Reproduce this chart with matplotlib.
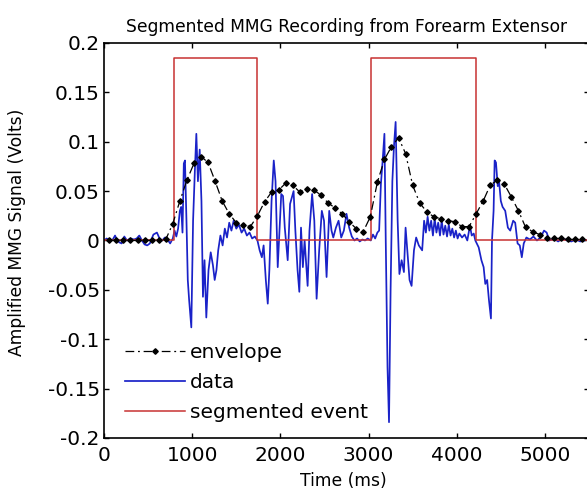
import numpy as np
import matplotlib
matplotlib.use('Agg')
import matplotlib.pyplot as plt

plt.rcParams['axes.unicode_minus'] = False

# envelope sampled every 80 ms starting at 60 ms
env_t = np.arange(60, 5421, 80)
env_v = [0.0, 0.0, 0.0, 0.0, 0.0, 0.0, 0.0, 0.0, 0.001, 0.017,
         0.040, 0.061, 0.078, 0.085, 0.079, 0.060, 0.040, 0.027, 0.018, 0.016,
         0.014, 0.025, 0.039, 0.049, 0.051, 0.058, 0.056, 0.049, 0.052, 0.051,
         0.046, 0.038, 0.033, 0.027, 0.019, 0.012, 0.009, 0.024, 0.059, 0.082,
         0.095, 0.104, 0.088, 0.056, 0.038, 0.029, 0.024, 0.022, 0.020, 0.019,
         0.014, 0.014, 0.027, 0.040, 0.056, 0.061, 0.057, 0.044, 0.030, 0.0135,
         0.009, 0.006, 0.003, 0.002, 0.002, 0.001, 0.001, 0.001]

# raw MMG trace, read as turning points (ms, volts)
data_t = [0, 30, 60, 100, 125, 150, 175, 200, 230, 260, 300, 340, 370, 400,
          430, 460, 490, 520, 560, 600, 630, 660, 690, 720, 750, 780, 800,
          820, 840, 860, 875, 890, 905, 918, 935, 950, 965, 990, 1010, 1030,
          1047, 1065, 1085, 1105, 1122, 1140, 1160, 1185, 1210, 1235, 1255,
          1275, 1295, 1320, 1345, 1370, 1395, 1420, 1445, 1470, 1500, 1530,
          1560, 1590, 1620, 1650, 1680, 1710, 1740, 1765, 1790, 1810, 1835,
          1857, 1875, 1900, 1925, 1945, 1970, 1990, 2010, 2030, 2050, 2083,
          2110, 2150, 2170, 2195, 2215, 2234, 2255, 2275, 2290, 2309, 2330,
          2360, 2385, 2411, 2440, 2470, 2495, 2524, 2554, 2580, 2600, 2630,
          2660, 2690, 2720, 2750, 2780, 2810, 2840, 2870, 2900, 2930, 2960,
          2990, 3025, 3050, 3075, 3100, 3120, 3140, 3160, 3180, 3195, 3215,
          3232, 3250, 3270, 3288, 3307, 3330, 3350, 3375, 3401, 3420, 3440,
          3465, 3488, 3515, 3540, 3570, 3608, 3630, 3650, 3670, 3690, 3710,
          3730, 3750, 3770, 3790, 3810, 3830, 3850, 3870, 3890, 3910, 3930,
          3950, 3970, 3990, 4010, 4030, 4060, 4090, 4120, 4150, 4170, 4193,
          4211, 4249, 4280, 4305, 4324, 4345, 4365, 4388, 4400, 4418, 4430,
          4445, 4465, 4480, 4500, 4520, 4550, 4580, 4607, 4640, 4663, 4690,
          4715, 4738, 4760, 4790, 4830, 4870, 4910, 4950, 4990, 5020, 5050,
          5100, 5150, 5200, 5250, 5300, 5350, 5400, 5450, 5500]
data_v = [0.000, 0.002, 0.000, 0.001, 0.005, 0.000, -0.002, -0.003, 0.004,
          0.000, 0.002, 0.001, 0.002, 0.005, 0.000, -0.004, -0.005, -0.003,
          0.006, 0.008, 0.002, 0.000, 0.003, 0.001, -0.003, 0.002, 0.010,
          0.004, 0.012, 0.030, 0.034, 0.008, 0.078, 0.081, 0.020, -0.040,
          -0.060, -0.088, 0.020, 0.070, 0.108, 0.060, 0.092, 0.040, -0.057,
          -0.020, -0.078, -0.030, -0.012, -0.025, -0.040, -0.030, -0.010,
          0.005, -0.005, 0.012, 0.003, 0.018, 0.010, 0.020, 0.012, 0.016,
          0.008, 0.012, 0.005, 0.008, 0.002, 0.004, 0.000, -0.010, -0.017,
          -0.005, -0.040, -0.064, -0.030, 0.040, 0.081, 0.060, -0.027, 0.010,
          0.047, 0.045, 0.013, -0.020, 0.037, 0.050, 0.010, -0.030, -0.052,
          0.013, -0.027, 0.000, -0.020, -0.046, 0.010, 0.047, 0.020, -0.059,
          -0.010, 0.030, 0.020, -0.037, 0.030, 0.010, 0.003, 0.013, 0.020,
          0.003, 0.010, 0.027, 0.013, 0.004, 0.000, 0.002, -0.001, 0.001,
          0.000, 0.002, 0.000, 0.006, 0.002, 0.008, 0.010, 0.057, 0.081,
          0.108, 0.000, -0.128, -0.184, -0.050, 0.060, 0.095, 0.120, 0.020,
          -0.034, -0.020, -0.032, 0.013, -0.010, -0.040, -0.046, -0.010,
          0.003, -0.005, -0.010, 0.020, 0.008, 0.024, 0.010, 0.020, 0.005,
          0.022, 0.008, 0.018, 0.005, 0.020, 0.006, 0.015, 0.004, 0.016,
          0.005, 0.012, 0.003, 0.010, 0.002, 0.007, 0.003, 0.006, 0.000,
          0.015, 0.005, 0.007, 0.000, -0.007, -0.020, -0.027, -0.044, -0.040,
          -0.060, -0.079, 0.000, 0.030, 0.081, 0.079, 0.055, 0.060, 0.040,
          0.034, 0.030, 0.013, 0.010, 0.020, 0.018, -0.003, -0.005, -0.017,
          -0.003, 0.003, 0.001, 0.004, 0.000, 0.003, 0.010, 0.008, 0.000,
          0.002, -0.001, 0.002, 0.000, -0.001, 0.001, -0.001, 0.000, 0.001]

# segmented events (on/off times in ms) and marker height
seg_t = [0, 790, 790, 1740, 1740, 3025, 3025, 4222, 4222, 5500]
seg_v = [0, 0, 0.185, 0.185, 0, 0, 0.185, 0.185, 0, 0]

fig = plt.figure(figsize=(5.87, 4.95), dpi=100)
ax = fig.add_axes([0.1772, 0.1152, 0.8262, 0.798])

data_line, = ax.plot(data_t, data_v, color='#1a22c8', lw=1.25, zorder=1)
seg_line, = ax.plot(seg_t, seg_v, color='#c83232', lw=1.1, zorder=2)
env_line, = ax.plot(env_t, env_v, color='black', lw=0.9, dashes=(7, 3, 1.5, 3),
                    marker='D', markersize=2.8, zorder=3)

ax.set_xlim(0, 5500)
ax.set_ylim(-0.2, 0.2)
ax.set_xticks([0, 1000, 2000, 3000, 4000, 5000])
ax.set_xticklabels(['0', '1000', '2000', '3000', '4000', '5000'])
yt = [-0.2, -0.15, -0.1, -0.05, 0, 0.05, 0.1, 0.15, 0.2]
ax.set_yticks(yt)
ax.set_yticklabels(['-0.2', '-0.15', '-0.1', '-0.05', '0', '0.05', '0.1',
                    '0.15', '0.2'])
ax.tick_params(direction='in', top=True, right=True, length=3.6, width=1,
               labelsize=14.5)
ax.tick_params(axis='x', pad=6)
ax.tick_params(axis='y', pad=3)
for s in ax.spines.values():
    s.set_linewidth(1.2)

ax.set_title('Segmented MMG Recording from Forearm Extensor', fontsize=12.3,
             pad=8)
ax.set_xlabel('Time (ms)', fontsize=12.3)
ax.set_ylabel('Amplified MMG Signal (Volts)', fontsize=12.3)
ax.xaxis.set_label_coords(0.493, -0.086)
ax.yaxis.set_label_coords(-0.16, 0.52)

ax.legend([env_line, data_line, seg_line],
          ['envelope', 'data', 'segmented event'],
          loc='lower left', bbox_to_anchor=(0.043, 0.04), frameon=False,
          borderaxespad=0, borderpad=0, handlelength=3.0,
          handletextpad=0.25, labelspacing=0.55, fontsize=14.5)

fig.savefig('out.png', dpi=100)
